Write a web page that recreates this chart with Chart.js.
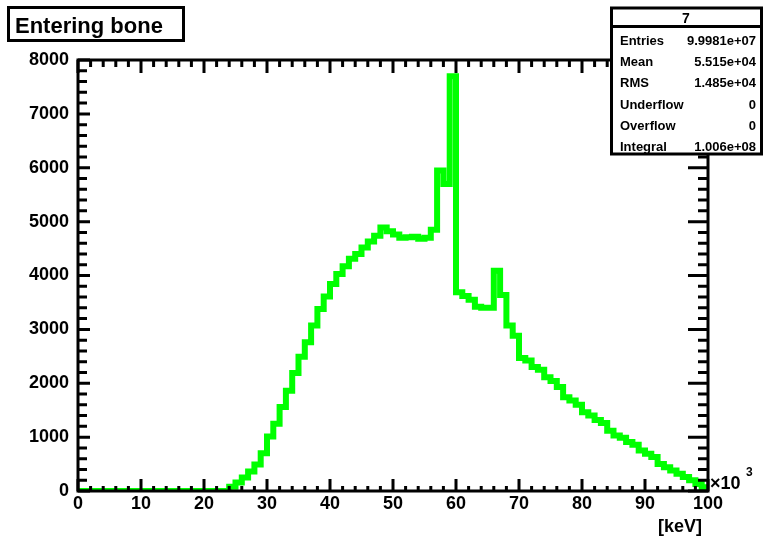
<!DOCTYPE html>
<html>
<head>
<meta charset="utf-8">
<title>Entering bone</title>
<script src="https://cdn.jsdelivr.net/npm/chart.js@4.4.1/dist/chart.umd.min.js"></script>
<style>
  html, body { margin: 0; padding: 0; background: #fff; }
  canvas { display: block; }
</style>
</head>
<body>
<canvas id="c" width="763" height="538"></canvas>
<script>
// Histogram binning (x axis in units of 10^3, 1 unit per bin)
const xMin = 0;
const xMax = 100;
const binWidth = 1;

// Counts per bin, bins 0..99
const counts = [
  0, 0, 0, 0, 0, 0, 0, 0, 0, 0,
  0, 0, 0, 0, 0, 0, 0, 0, 0, 0,
  0, 0, 0, 0, 80, 160, 250, 360, 490, 700,
  1010, 1250, 1560, 1860, 2190, 2490, 2760, 3070, 3380, 3610,
  3840, 4030, 4170, 4310, 4400, 4520, 4630, 4740, 4890, 4820,
  4760, 4700, 4710, 4720, 4680, 4700, 4850, 5950, 5700, 7700,
  3690, 3620, 3550, 3420, 3400, 3400, 4090, 3640, 3070, 2880,
  2470, 2420, 2300, 2250, 2110, 2040, 1930, 1740, 1680, 1600,
  1460, 1400, 1320, 1260, 1120, 1030, 990, 910, 860, 750,
  690, 630, 500, 440, 380, 320, 260, 200, 130, 70
];

// Axis ranges and tick spacing
const yMax = 8000;
const xMajorStep = 10, xMinorStep = 2;
const yMajorStep = 1000, yMinorStep = 200;

// Statistics panel
const statsTitle = '7';
const statsLabels = ['Entries', 'Mean', 'RMS', 'Underflow', 'Overflow', 'Integral'];
const statsValues = ['9.9981e+07', '5.515e+04', '1.485e+04', '0', '0', '1.006e+08'];

const histTitle = 'Entering bone';
const xUnitLabel = '[keV]';

// Step outline points: left edge of each bin, plus the right edge of the last bin
const points = counts.map((v, i) => ({ x: xMin + i * binWidth, y: v }));
points.push({ x: xMin + counts.length * binWidth, y: counts[counts.length - 1] });

const FONT = '"Liberation Sans", Arial, Helvetica, sans-serif';

const frameTicks = {
  id: 'frameTicks',
  beforeDraw(chart) {
    const ctx = chart.ctx;
    ctx.save();
    ctx.fillStyle = '#fff';
    ctx.fillRect(0, 0, chart.width, chart.height);
    ctx.restore();
  },
  afterDatasetsDraw(chart) {
    const { ctx, chartArea: a, scales: { x, y } } = chart;
    ctx.save();
    ctx.strokeStyle = '#000';
    ctx.lineWidth = 3;
    ctx.lineCap = 'butt';
    ctx.beginPath();
    // x ticks (bottom, pointing up; top, pointing down)
    for (let v = xMin; v <= xMax + 1e-9; v += xMinorStep) {
      const px = x.getPixelForValue(v);
      const major = Math.abs(v % xMajorStep) < 1e-9;
      ctx.moveTo(px, a.bottom);
      ctx.lineTo(px, a.bottom - (major ? 12 : 5));
      ctx.moveTo(px, a.top);
      ctx.lineTo(px, a.top + (major ? 13 : 7));
    }
    // y ticks (left and right)
    for (let v = 0; v <= yMax + 1e-9; v += yMinorStep) {
      const py = y.getPixelForValue(v);
      const major = Math.abs(v % yMajorStep) < 1e-9;
      ctx.moveTo(a.left, py);
      ctx.lineTo(a.left + (major ? 12 : 9), py);
      ctx.moveTo(a.right, py);
      ctx.lineTo(a.right - (major ? 20 : 10), py);
    }
    ctx.stroke();
    // frame
    ctx.strokeRect(a.left, a.top, a.right - a.left, a.bottom - a.top);
    ctx.restore();
  },
  afterDraw(chart) {
    const { ctx, chartArea: a } = chart;
    ctx.save();
    ctx.fillStyle = '#000';
    ctx.strokeStyle = '#000';

    // exponent marker on the x axis
    ctx.font = 'bold 18px ' + FONT;
    ctx.textAlign = 'left';
    ctx.textBaseline = 'alphabetic';
    ctx.fillText('\u00d710', a.right + 2, a.bottom - 2);
    ctx.font = 'bold 12px ' + FONT;
    ctx.fillText('3', a.right + 38, a.bottom - 15);

    // x axis unit
    ctx.font = 'bold 18px ' + FONT;
    ctx.textAlign = 'right';
    ctx.fillText(xUnitLabel, a.right - 6, 532);

    // title box
    ctx.lineWidth = 3;
    ctx.fillStyle = '#fff';
    ctx.fillRect(8.5, 7.5, 175, 33);
    ctx.strokeRect(8.5, 7.5, 175, 33);
    ctx.fillStyle = '#000';
    ctx.font = 'bold 22px ' + FONT;
    ctx.textAlign = 'left';
    ctx.fillText(histTitle, 15, 33);

    // statistics box
    const bx = 611.5, by = 8, bw = 150, bh = 146;
    ctx.fillStyle = '#fff';
    ctx.fillRect(bx, by, bw, bh);
    ctx.strokeRect(bx, by, bw, bh);
    ctx.beginPath();
    ctx.moveTo(bx, 26.5);
    ctx.lineTo(bx + bw, 26.5);
    ctx.stroke();
    ctx.fillStyle = '#000';
    ctx.font = 'bold 14px ' + FONT;
    ctx.textAlign = 'center';
    ctx.fillText(statsTitle, 686, 23);
    ctx.font = 'bold 13px ' + FONT;
    statsLabels.forEach((lab, i) => {
      const yy = 45 + i * 21.2;
      ctx.textAlign = 'left';
      ctx.fillText(lab, 620, yy);
      ctx.textAlign = 'right';
      ctx.fillText(statsValues[i], 756, yy);
    });
    ctx.restore();
  }
};

new Chart(document.getElementById('c'), {
  type: 'line',
  data: {
    datasets: [{
      data: points,
      stepped: true,
      borderColor: '#00ff00',
      borderWidth: 6,
      borderJoinStyle: 'miter',
      borderCapStyle: 'butt',
      pointRadius: 0,
      fill: false,
      tension: 0
    }]
  },
  options: {
    responsive: false,
    devicePixelRatio: 1,
    animation: false,
    layout: { padding: { left: 0, top: 60, right: 55, bottom: 0 } },
    plugins: { legend: { display: false }, tooltip: { enabled: false }, title: { display: false } },
    scales: {
      x: {
        type: 'linear',
        min: xMin,
        max: xMax,
        grid: { display: false, drawTicks: false },
        border: { display: false },
        ticks: {
          stepSize: xMajorStep,
          padding: 2,
          color: '#000',
          maxRotation: 0,
          autoSkip: false,
          callback: (v) => String(v),
          font: { family: FONT, weight: 'bold', size: 18 }
        },
        afterFit(s) { s.height = 47; }
      },
      y: {
        type: 'linear',
        min: 0,
        max: yMax,
        grid: { display: false, drawTicks: false },
        border: { display: false },
        ticks: {
          stepSize: yMajorStep,
          padding: 9,
          color: '#000',
          autoSkip: false,
          callback: (v) => String(v),
          font: { family: FONT, weight: 'bold', size: 18 }
        },
        afterFit(s) { s.width = 78; }
      }
    }
  },
  plugins: [frameTicks]
});
</script>
</body>
</html>
